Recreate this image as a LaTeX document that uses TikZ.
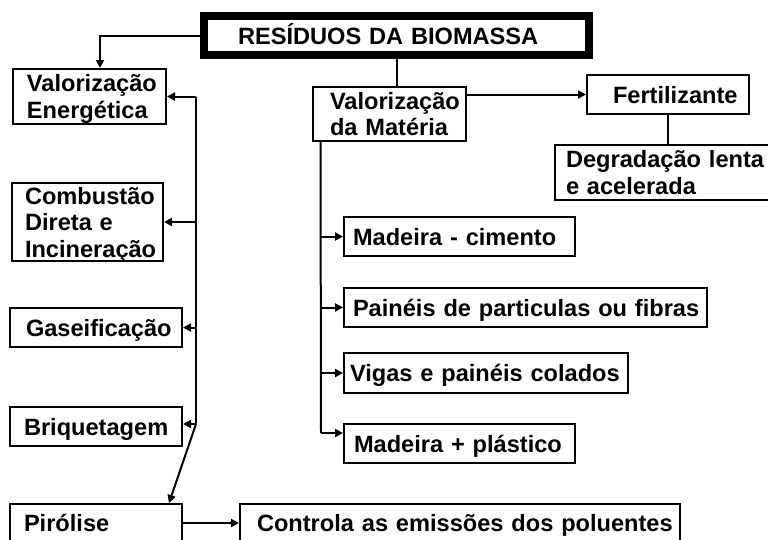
\documentclass[tikz,border=0pt]{standalone}
\usepackage{fontspec}
\setmainfont{Liberation Sans}
\usetikzlibrary{arrows.meta,calc}
\tikzset{
  bx/.style={draw, rectangle, line width=2pt, inner sep=0pt, align=left,
    font=\bfseries\fontsize{23.6}{26.5}\selectfont, text height=17pt, text depth=0pt},
  arr/.style={-{Triangle[length=8pt,width=8pt]}},
  ln/.style={line width=2pt}
}
\begin{document}
\begin{tikzpicture}[x=1pt,y=-1pt]
\useasboundingbox (0,0) rectangle (768,539);
\clip (0,0) rectangle (768,539);
% boxes
\node[bx, line width=7.5pt, minimum width=385, minimum height=39, text width=317] (title) at (396.5,35.5) {\mbox{RESÍDUOS DA BIOMASSA}};
\node[bx, minimum width=153, minimum height=55, text width=125, text depth=26.5pt] (ve) at (89.5,96.5) {Valorização\\Energética};
\node[bx, minimum width=151, minimum height=78, text width=125, text depth=53pt] (cd) at (87.5,222) {Combustão\\\mbox{Direta e}\\Incineração};
\node[bx, minimum width=172, minimum height=39, text width=140] (ga) at (96,327.5) {Gaseificação};
\node[bx, minimum width=172, minimum height=39, text width=144] (br) at (96,426.5) {Briquetagem};
\node[bx, minimum width=172, minimum height=38, text width=144] (pi) at (96,523) {Pirólise};
\node[bx, minimum width=440, minimum height=38, text width=406] (co) at (460,523) {\mbox{Controla as emissões dos poluentes}};
\node[bx, minimum width=153, minimum height=54, text width=119, text depth=26.5pt] (vm) at (389.5,114) {Valorização\\\mbox{da Matéria}};
\node[bx, minimum width=162, minimum height=39, text width=110] (fe) at (668,94.5) {Fertilizante};
\node[bx, minimum width=235, minimum height=55, text width=213, text depth=26.5pt] (dg) at (672.5,172.5) {\mbox{Degradação lenta}\\\mbox{e acelerada}};
\node[bx, minimum width=231, minimum height=39, text width=213] (mc) at (459.5,236.5) {\mbox{Madeira - cimento}};
\node[bx, minimum width=363, minimum height=39, text width=345] (pa) at (525.5,307.5) {\mbox{Painéis de particulas ou fibras}};
\node[bx, minimum width=284, minimum height=40, text width=272] (vg) at (486,373) {\mbox{Vigas e painéis colados}};
\node[bx, minimum width=231, minimum height=39, text width=211] (mp) at (459.5,443.5) {\mbox{Madeira + plástico}};
% connectors: energy branch
\draw[ln, arr] (title.west) -| ($(ve.north)+(10.5,0)$);
\coordinate (eT) at (196,96.5);
\coordinate (eB) at (196,424);
\draw[ln] (eT) -- (eB);
\draw[ln, arr] (eT) -- (ve.east);
\draw[ln, arr] (eT |- cd.east) -- (cd.east);
\draw[ln, arr] (eT |- ga.east) -- (ga.east);
\draw[ln, arr] (eB) -- (br.east |- eB);
\draw[ln, arr] (eB) -- ($(pi.north east)+(-14,0)$);
\draw[ln, arr] (pi.east) -- (co.west);
% matter branch
\draw[ln] (title.south) -- (title.south |- vm.north);
\draw[ln, arr] (vm.east |- fe.west) -- (fe.west);
\draw[ln] (fe.south) -- (fe.south |- dg.north);
\coordinate (mT) at ($(vm.south west)+(8.5,0)$);
\coordinate (mB) at (321,433);
\draw[ln] (mT) -- (mB);
\draw[ln, arr] (mT |- mc.west) -- (mc.west);
\draw[ln, arr] (mT |- pa.west) -- (pa.west);
\draw[ln, arr] (mT |- vg.west) -- (vg.west);
\draw[ln, arr] (mB) -- (mp.west |- mB);
\end{tikzpicture}
\end{document}
